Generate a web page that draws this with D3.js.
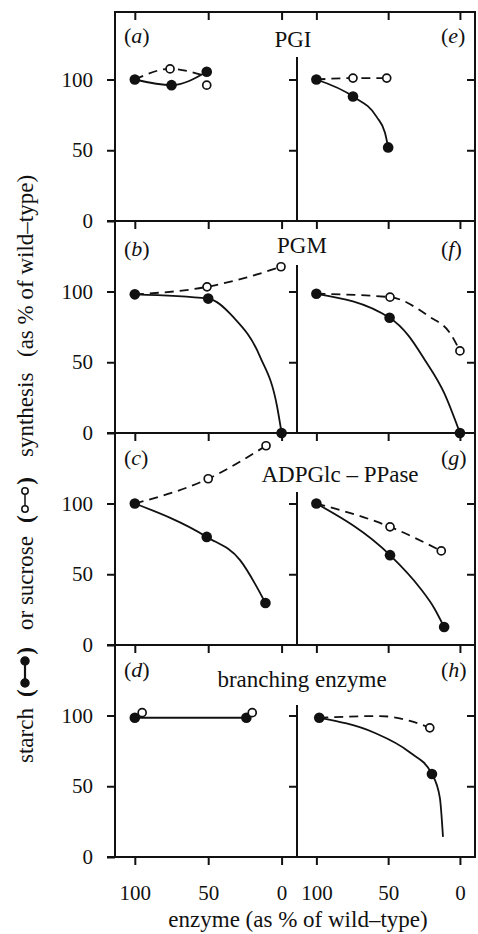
<!DOCTYPE html>
<html>
<head>
<meta charset="utf-8">
<script src="https://cdn.jsdelivr.net/npm/d3@7"></script>
<style>
  body { margin: 0; background: #fff; }
</style>
</head>
<body>
<div id="chart"></div>
<script>
// panel titles and letters
const enzymes = ["PGI", "PGM", "ADPGlc \u2013 PPase", "branching enzyme"];
const leftLetters = ["a", "b", "c", "d"];
const rightLetters = ["e", "f", "g", "h"];
const xTicks = [100, 50, 0];
const yTicks = [0, 50, 100];

// [enzyme %, synthesis %]
// (a) / (e) PGI
const starchA = [[100, 100], [75, 96], [51, 105.5]];
const sucroseA = [[76, 107.5], [51, 96]];
const sucroseLineA = [[100, 100], [76, 107.5], [55, 103.5]];
const starchE = [[100, 100], [74.5, 88], [50, 52]];
const starchLineE = [[100, 100], [74.5, 88], [58, 73.6], [52.2, 62.3], [50, 52]];
const sucroseE = [[74.5, 101], [51, 101]];
const sucroseLineE = [[100, 100], [74.5, 101], [51, 101]];
// (b) / (f) PGM
const starchB = [[100, 98], [50, 95], [0, 0]];
const starchLineB = [[100, 98], [50, 95], [33, 82], [14.7, 54], [3, 18.4], [0, 0]];
const sucroseB = [[50.8, 103.3], [0.4, 117.5]];
const sucroseLineB = [[100, 98], [50.8, 103.3], [23.6, 110], [0.4, 117.5]];
const starchF = [[100, 98.4], [49, 81.4], [0, 0]];
const starchLineF = [[100, 98.4], [49, 81.4], [36, 69], [25, 52.5], [11, 28.3], [0, 0]];
const sucroseF = [[48.7, 96], [0, 58]];
const sucroseLineF = [[100, 98.4], [48.7, 96], [21, 82], [7, 70.8], [0, 58]];
// (c) / (g) ADPGlc-PPase
const starchC = [[100, 100], [51, 76.4], [11, 29.7]];
const starchLineC = [[100, 100], [51, 76.4], [28.3, 60], [11, 29.7]];
const sucroseC = [[50, 117.5], [10.6, 140.8]];
const sucroseLineC = [[100, 100], [50, 117.5], [10.6, 140.8]];
const starchG = [[100, 100], [48.7, 63.5], [11, 12.7]];
const starchLineG = [[100, 100], [48.7, 63.5], [27.8, 40.3], [18, 26.2], [11, 12.7]];
const sucroseG = [[48.7, 83.5], [13, 66.5]];
const sucroseLineG = [[100, 100], [48.7, 83.5], [13, 66.5]];
// (d) / (h) branching enzyme
const starchD = [[100, 98.4], [24, 98.4]];
const starchLineD = [[100, 98.4], [24, 98.4]];
const sucroseD = [[95, 102], [20, 102]];
const sucroseLineD = [];
const starchH = [[98, 98.4], [19.5, 58.7]];
const starchLineH = [[98, 98.4], [60, 88], [35, 74], [19.5, 58.7], [14, 42], [11.8, 14.2]];
const sucroseH = [[21, 91.3]];
const sucroseLineH = [[98, 98.4], [55.7, 99.6], [34.8, 96.2], [21, 91.3]];

const halves = [
  [starchA, starchA, sucroseA, sucroseLineA, starchE, starchLineE, sucroseE, sucroseLineE],
  [starchB, starchLineB, sucroseB, sucroseLineB, starchF, starchLineF, sucroseF, sucroseLineF],
  [starchC, starchLineC, sucroseC, sucroseLineC, starchG, starchLineG, sucroseG, sucroseLineG],
  [starchD, starchLineD, sucroseD, sucroseLineD, starchH, starchLineH, sucroseH, sucroseLineH]
];

const serif = "'Liberation Serif', 'Times New Roman', serif";
const width = 478, height = 934;
const xL = 115, xM = 297, xR = 475;
const bounds = [12, 221, 433, 645, 857];
const dividerTop = [57, 265, 492, 705];
const titlePos = [[293, 47], [302, 253], [340, 482], [302, 687]];
const letterY = [43, 256, 465, 677];

const svg = d3.select("#chart").append("svg")
  .attr("width", width).attr("height", height)
  .attr("font-family", serif);

const xLeft = d3.scaleLinear().domain([113.5, -10.5]).range([xL, xM]);
const xRight = d3.scaleLinear().domain([113.5, -10.5]).range([xM, xR]);

// outer box
svg.append("rect").attr("x", xL).attr("y", bounds[0])
  .attr("width", xR - xL).attr("height", bounds[4] - bounds[0])
  .attr("fill", "none").attr("stroke", "#111").attr("stroke-width", 2);

function txt(sel) { return sel.attr("font-family", serif).attr("fill", "#111"); }

enzymes.forEach(function(name, i) {
  var top = bounds[i], bottom = bounds[i + 1];
  var y = d3.scaleLinear().domain([0, 100]).range([bottom, bottom - 141.5]);
  var g = svg.append("g");

  // panel separator line
  g.append("line").attr("x1", xL - 8).attr("x2", xR)
    .attr("y1", bottom).attr("y2", bottom)
    .attr("stroke", "#111").attr("stroke-width", 2);
  // divider between halves
  g.append("line").attr("x1", xM).attr("x2", xM)
    .attr("y1", dividerTop[i]).attr("y2", bottom)
    .attr("stroke", "#111").attr("stroke-width", 2);

  // y axis with labels
  var ya = g.append("g").attr("transform", "translate(" + xL + ",0)")
    .call(d3.axisLeft(y).tickValues(yTicks).tickSize(8).tickPadding(14).tickFormat(d3.format("d")));
  ya.attr("font-family", serif);
  ya.select(".domain").remove();
  ya.selectAll("line").attr("stroke", "#111").attr("stroke-width", 2);
  txt(ya.selectAll("text")).attr("font-size", 21);

  [xM, xR].forEach(function(px) {
    var t = g.append("g").attr("transform", "translate(" + px + ",0)")
      .call(d3.axisLeft(y).tickValues([50, 100]).tickSize(8).tickFormat(""));
    t.select(".domain").remove();
    t.selectAll("line").attr("stroke", "#111").attr("stroke-width", 2);
  });

  // x ticks hanging from the top of each panel
  [xLeft, xRight].forEach(function(sc) {
    var t = g.append("g").attr("transform", "translate(0," + top + ")")
      .call(d3.axisBottom(sc).tickValues(xTicks).tickSize(8).tickFormat(""));
    t.select(".domain").remove();
    t.selectAll("line").attr("stroke", "#111").attr("stroke-width", 2);
  });

  // titles
  txt(g.append("text")).attr("x", titlePos[i][0]).attr("y", titlePos[i][1])
    .attr("text-anchor", "middle").attr("font-size", 23).text(name);
  [[leftLetters[i], 124], [rightLetters[i], 441]].forEach(function(l) {
    var t = txt(g.append("text")).attr("x", l[1]).attr("y", letterY[i]).attr("font-size", 22);
    t.append("tspan").text("(");
    t.append("tspan").attr("font-style", "italic").text(l[0]);
    t.append("tspan").text(")");
  });

  // curves and points
  var d = halves[i];
  [[xLeft, d.slice(0, 4)], [xRight, d.slice(4, 8)]].forEach(function(h) {
    var sx = h[0], s = h[1];
    var line = d3.line().x(function(p) { return sx(p[0]); })
      .y(function(p) { return y(p[1]); })
      .curve(d3.curveMonotoneX);
    if (s[3].length) {
      g.append("path").attr("d", line(s[3])).attr("fill", "none")
        .attr("stroke", "#111").attr("stroke-width", 1.8)
        .attr("stroke-dasharray", "9,6");
    }
    if (s[1].length) {
      g.append("path").attr("d", line(s[1])).attr("fill", "none")
        .attr("stroke", "#111").attr("stroke-width", 1.8);
    }
    g.selectAll(null).data(s[0]).enter().append("circle")
      .attr("cx", function(p) { return sx(p[0]); })
      .attr("cy", function(p) { return y(p[1]); })
      .attr("r", 5.3).attr("fill", "#111");
    g.selectAll(null).data(s[2]).enter().append("circle")
      .attr("cx", function(p) { return sx(p[0]); })
      .attr("cy", function(p) { return y(p[1]); })
      .attr("r", 4).attr("fill", "#fff")
      .attr("stroke", "#111").attr("stroke-width", 1.7);
  });
});

// bottom x axis labels
[xLeft, xRight].forEach(function(sc) {
  var t = svg.append("g").attr("transform", "translate(0," + bounds[4] + ")")
    .call(d3.axisBottom(sc).tickValues(xTicks).tickSize(8).tickPadding(20).tickFormat(d3.format("d")));
  t.attr("font-family", serif);
  t.select(".domain").remove();
  t.selectAll("line").attr("stroke", "#111").attr("stroke-width", 2);
  txt(t.selectAll("text")).attr("font-size", 21);
});

txt(svg.append("text")).attr("x", 298).attr("y", 927).attr("text-anchor", "middle")
  .attr("font-size", 23).text("enzyme  (as % of wild\u2013type)");

// y axis title with the legend glyphs
var yt = svg.append("g").attr("transform", "translate(33,0) rotate(-90)");
function word(x, s) { txt(yt.append("text")).attr("x", x).attr("y", 0).attr("font-size", 23).text(s); }
function glyph(x0, x1, filled) {
  txt(yt.append("text")).attr("x", x0).attr("y", 0).attr("font-size", 23).attr("font-weight", "bold").text("(");
  txt(yt.append("text")).attr("x", x1).attr("y", 0).attr("font-size", 23).attr("font-weight", "bold")
    .attr("text-anchor", "end").text(")");
  var a = x0 + 14, b = x1 - 14;
  yt.append("line").attr("x1", a).attr("x2", b).attr("y1", -8).attr("y2", -8)
    .attr("stroke", "#111").attr("stroke-width", filled ? 2.2 : 1.5);
  [a, b].forEach(function(c) {
    yt.append("circle").attr("cx", c).attr("cy", -8).attr("r", filled ? 4 : 3.2)
      .attr("fill", filled ? "#111" : "#fff").attr("stroke", "#111").attr("stroke-width", 1.5);
  });
}
word(-763, "starch");
glyph(-697, -647, true);
word(-630, "or sucrose");
glyph(-523, -477, false);
word(-457, "synthesis");
word(-357, "(as % of wild\u2013type)");
</script>
</body>
</html>
